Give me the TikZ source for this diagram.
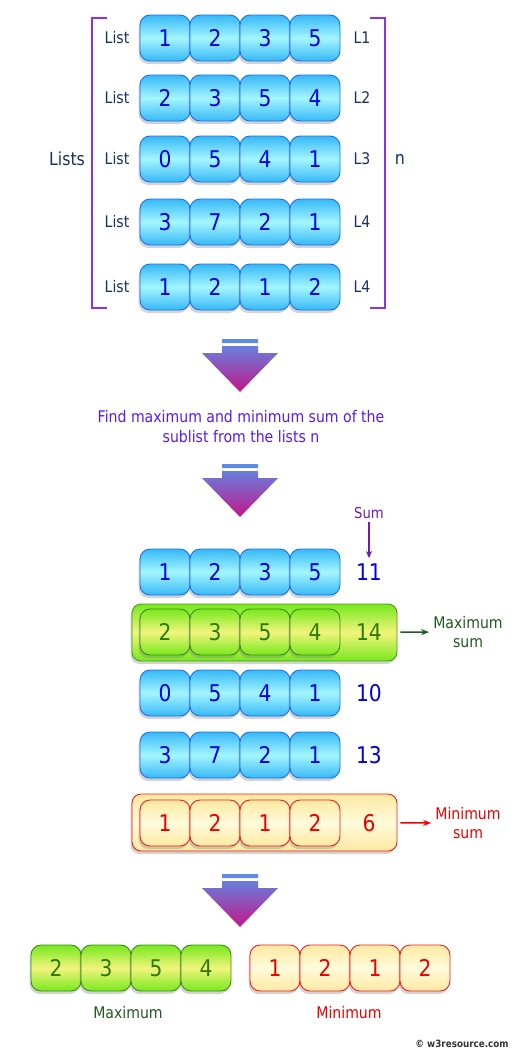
\documentclass[tikz,border=0pt]{standalone}
\usepackage{fontspec}
\setmainfont{DejaVu Sans}[FakeStretch=0.88]
\usetikzlibrary{shadows,arrows.meta}

\definecolor{cellblue}{HTML}{36B8F6}
\definecolor{celllight}{HTML}{A4F6FF}
\definecolor{edgeblue}{HTML}{1C6FF0}
\definecolor{digitblue}{HTML}{0000E0}
\definecolor{navytext}{HTML}{1B2F66}
\definecolor{bracketviolet}{HTML}{8533EE}
\definecolor{arrowtop}{HTML}{5B8FEA}
\definecolor{arrowtip}{HTML}{C2168A}
\definecolor{findviolet}{HTML}{5A1AEE}
\definecolor{sumviolet}{HTML}{7318B0}
\definecolor{limegreen}{HTML}{78E81E}
\definecolor{limeyellow}{HTML}{F2F47C}
\definecolor{edgegreen}{HTML}{3A8C12}
\definecolor{digitgreen}{HTML}{2E7A06}
\definecolor{darkgreen}{HTML}{1F5A1F}
\definecolor{paleyellow}{HTML}{FDE9A2}
\definecolor{creamlight}{HTML}{FFFBDA}
\definecolor{edgered}{HTML}{F41C1C}
\definecolor{digitred}{HTML}{EE0000}

\tikzset{
  cell/.style={draw, rounded corners=10pt, minimum width=50pt, minimum height=46pt,
    inner sep=0pt, line width=0.9pt, font=\fontsize{23}{23}\selectfont,
    drop shadow={shadow xshift=-1.5pt, shadow yshift=-3pt, opacity=.35}},
  blue cell/.style={cell, draw=edgeblue, top color=cellblue, bottom color=cellblue,
    middle color=celllight, text=digitblue},
  green cell/.style={cell, draw=edgegreen, top color=limegreen, bottom color=limegreen,
    middle color=limeyellow, text=digitgreen},
  red cell/.style={cell, draw=edgered, top color=paleyellow, bottom color=paleyellow,
    middle color=creamlight, text=digitred},
  band/.style={draw, rounded corners=9pt, minimum width=265pt, minimum height=57pt,
    inner sep=0pt, line width=0.9pt,
    drop shadow={shadow xshift=-1.5pt, shadow yshift=-3pt, opacity=.35}},
  blue sum/.style={text=digitblue, font=\fontsize{23}{23}\selectfont},
  green sum/.style={text=digitgreen, font=\fontsize{23}{23}\selectfont},
  red sum/.style={text=digitred, font=\fontsize{23}{23}\selectfont},
  listlabel/.style={text=navytext, font=\fontsize{16}{16}\selectfont},
  headlabel/.style={text=navytext, font=\fontsize{18}{18}\selectfont},
  bracket/.style={draw=bracketviolet, line width=2pt},
  sidetext/.style={align=center, inner sep=0pt, font=\fontsize{16}{19}\selectfont},
  sidearrow/.style={-{Stealth[length=8pt,width=6pt]}, line width=1.4pt, shorten <=3pt, shorten >=4pt},
  downarrow/.pic={
    \shade[top color=arrowtop, bottom color=arrowtip]
      (-18,0) rectangle (18,4) (-18,7) rectangle (18,14)
      (-38,14) -- (38,14) -- (0,53) -- cycle;
  }
}

\begin{document}
\begin{tikzpicture}[x=1pt,y=-1pt]
\useasboundingbox (0,0) rectangle (519,1058);
% the lists
\node[headlabel] (lists) at (67,159) {Lists};
\node[headlabel] (n) at (400,159) {n};
\draw[bracket] (107,18) -- (92,18) -- (92,308) -- (107,308);
\draw[bracket] (370,18) -- (385,18) -- (385,308) -- (370,308);
\foreach \r/\y/\vals/\lab in {1/38/{1,2,3,5}/L1,2/98/{2,3,5,4}/L2,3/159/{0,5,4,1}/L3,4/222/{3,7,2,1}/L4,5/287/{1,2,1,2}/L4}{
  \node[listlabel] (list\r) at (117,\y) {List};
  \foreach \v [count=\i] in \vals
    \node[blue cell] (in\r-\i) at ({115+50*\i},\y) {\v};
  \node[listlabel] (name\r) at (362,\y) {\lab};
}
\pic at (240,339) {downarrow};
\node[text=findviolet, align=center, font=\fontsize{16}{20}\selectfont] (find) at (241,427)
  {Find maximum and minimum sum of the\\sublist from the lists n};
\pic at (240,464) {downarrow};
% sums
\node[text=sumviolet, font=\fontsize{15}{15}\selectfont] (sumhead) at (369,513) {Sum};
\node[band, draw=edgegreen!80!limegreen, top color=limegreen, bottom color=limegreen,
  middle color=limeyellow] (maxband) at (264.5,632.5) {};
\node[band, draw=edgered, top color=paleyellow, bottom color=paleyellow,
  middle color=creamlight] (minband) at (264.5,822.5) {};
\foreach \r/\y/\vals/\s/\kind in {1/572/{1,2,3,5}/11/blue,2/632/{2,3,5,4}/14/green,3/693/{0,5,4,1}/10/blue,4/755/{3,7,2,1}/13/blue,5/823/{1,2,1,2}/6/red}{
  \foreach \v [count=\i] in \vals
    \node[\kind\space cell] (row\r-\i) at ({115+50*\i},\y) {\v};
  \node[\kind\space sum] (sum\r) at (369,\y) {\s};
}
\draw[-{Stealth[length=7pt,width=6pt]}, draw=sumviolet, line width=1.4pt, shorten >=2pt] (sumhead) -- (sum1);
\node[sidetext, text=darkgreen] (maxlabel) at (468,632) {Maximum\\sum};
\draw[sidearrow, draw=darkgreen] (maxband) -- (maxlabel);
\node[sidetext, text=digitred] (minlabel) at (468,823) {Minimum\\sum};
\draw[sidearrow, draw=digitred] (minband) -- (minlabel);
\pic at (240,874) {downarrow};
% result
\foreach \v [count=\i] in {2,3,5,4}
  \node[green cell] (max\i) at ({6+50*\i},968) {\v};
\foreach \v [count=\i] in {1,2,1,2}
  \node[red cell] (min\i) at ({225+50*\i},968) {\v};
\node[text=darkgreen, font=\fontsize{16}{16}\selectfont] (maxname) at (128,1013) {Maximum};
\node[text=digitred, font=\fontsize{16}{16}\selectfont] (minname) at (349,1013) {Minimum};
\node[text=black!80, font=\bfseries\fontsize{10}{10}\selectfont] (credit) at (462,1044) {© w3resource.com};
\end{tikzpicture}
\end{document}
